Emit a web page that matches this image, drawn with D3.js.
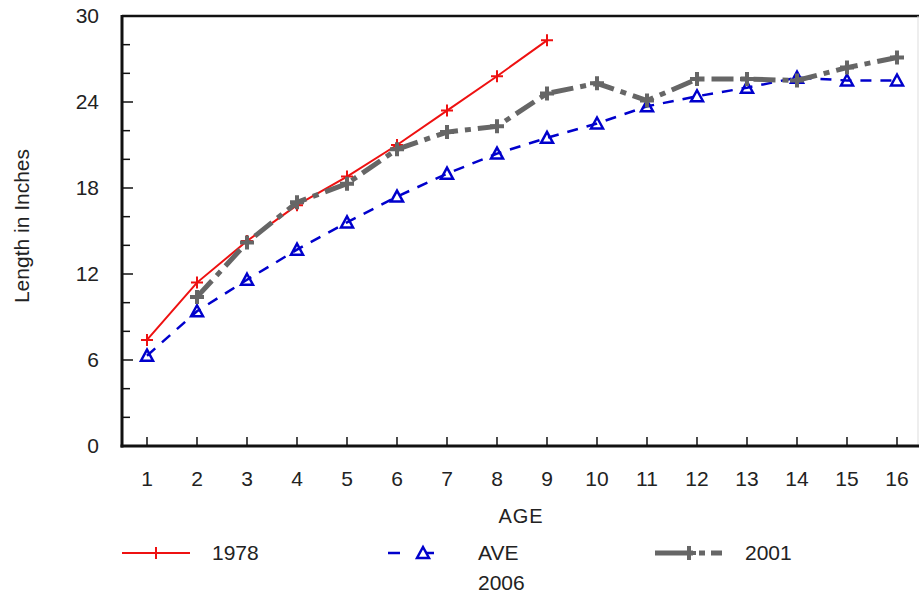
<!DOCTYPE html>
<html>
<head>
<meta charset="utf-8">
<script src="https://cdn.jsdelivr.net/npm/d3@7/dist/d3.min.js"></script>
<style>
  body { margin: 0; background: #fff; }
  text { font-family: "Liberation Sans", Arial, sans-serif; fill: #222; }
</style>
</head>
<body>
<div id="chart"></div>
<script>
var ages = [1, 2, 3, 4, 5, 6, 7, 8, 9, 10, 11, 12, 13, 14, 15, 16];
var y1978 = [7.4, 11.4, 14.3, 16.8, 18.8, 21.0, 23.4, 25.8, 28.3];
var yAve = [6.3, 9.4, 11.6, 13.7, 15.6, 17.4, 19.0, 20.4, 21.5, 22.5, 23.7, 24.4, 25.0, 25.7, 25.5, 25.5];
var y2001 = [null, 10.4, 14.2, 17.0, 18.3, 20.7, 21.9, 22.3, 24.6, 25.3, 24.1, 25.6, 25.6, 25.5, 26.4, 27.1];
var yTicks = [0, 6, 12, 18, 24, 30];

var margin = { left: 122, top: 16, right: 0, bottom: 154 };
var W = 919, H = 600;
var height = H - margin.top - margin.bottom;
var width = 800;

var svg = d3.select("#chart").append("svg")
  .attr("width", W)
  .attr("height", H);

var g = svg.append("g")
  .attr("transform", "translate(" + margin.left + "," + margin.top + ")");

var x = d3.scaleBand().domain(ages).range([0, width]);
var y = d3.scaleLinear().domain([0, 30]).range([height, 0]);
var cx = function (a) { return x(a) + x.bandwidth() / 2; };

// frame: top line and faint right edge
g.append("line").attr("x1", 0).attr("x2", W).attr("y1", 0).attr("y2", 0)
  .attr("stroke", "#111").attr("stroke-width", 2.5);
g.append("line").attr("x1", 796).attr("x2", 796).attr("y1", 0).attr("y2", height)
  .attr("stroke", "#ddd").attr("stroke-width", 1);

// y axis
var yAxis = g.append("g").attr("class", "y-axis");
yAxis.append("line").attr("x1", 0).attr("x2", 0).attr("y1", -1).attr("y2", height + 1.5)
  .attr("stroke", "#111").attr("stroke-width", 3);
yAxis.selectAll(".ytick").data(d3.range(0, 31, 2)).enter().append("line")
  .attr("x1", 0)
  .attr("x2", function (d) { return d % 6 === 0 ? 11 : 8; })
  .attr("y1", function (d) { return y(d); })
  .attr("y2", function (d) { return y(d); })
  .attr("stroke", "#111").attr("stroke-width", 1.5);
yAxis.selectAll(".ylab").data(yTicks).enter().append("text")
  .attr("x", -23)
  .attr("y", function (d) { return y(d); })
  .attr("dy", "0.35em")
  .attr("text-anchor", "end")
  .attr("font-size", "21px")
  .text(function (d) { return d; });

// x axis
var xAxis = g.append("g").attr("class", "x-axis")
  .attr("transform", "translate(0," + height + ")");
xAxis.append("line").attr("x1", -1.5).attr("x2", W).attr("y1", 0).attr("y2", 0)
  .attr("stroke", "#111").attr("stroke-width", 3);
xAxis.selectAll(".xtick").data(ages).enter().append("line")
  .attr("x1", cx).attr("x2", cx)
  .attr("y1", 0).attr("y2", -9)
  .attr("stroke", "#111").attr("stroke-width", 1.5);
xAxis.selectAll(".xlab").data(ages).enter().append("text")
  .attr("x", cx)
  .attr("y", 40)
  .attr("text-anchor", "middle")
  .attr("font-size", "21px")
  .text(function (d) { return d; });

// axis labels
svg.append("text")
  .attr("x", 521).attr("y", 523)
  .attr("text-anchor", "middle")
  .attr("font-size", "20px")
  .attr("letter-spacing", "1px")
  .text("AGE");
svg.append("text")
  .attr("transform", "translate(29,226) rotate(-90)")
  .attr("text-anchor", "middle")
  .attr("font-size", "21px")
  .text("Length in Inches");

// series
var line = d3.line()
  .defined(function (d) { return d.v != null; })
  .x(function (d) { return cx(d.a); })
  .y(function (d) { return y(d.v); });

function pts(vals) {
  return vals.map(function (v, i) { return { a: ages[i], v: v }; });
}

var plus = function (s) { return "M" + (-s) + ",0H" + s + "M0," + (-s) + "V" + s; };
var tri = "M0,-6L6,5H-6Z";

var series = [
  { vals: y1978, color: "#ee1111", w: 2, dash: null, marker: "plus", ms: 6, mw: 2 },
  { vals: yAve, color: "#0000cc", w: 2.5, dash: "11,9", marker: "tri", ms: 6, mw: 2.5 },
  { vals: y2001, color: "#666666", w: 5, dash: "22,7,6,7", marker: "plus", ms: 7, mw: 4 }
];

series.forEach(function (s) {
  var data = pts(s.vals);
  g.append("path")
    .datum(data)
    .attr("fill", "none")
    .attr("stroke", s.color)
    .attr("stroke-width", s.w)
    .attr("stroke-dasharray", s.dash)
    .attr("d", line);
  g.selectAll(null).data(data.filter(function (d) { return d.v != null; })).enter()
    .append("path")
    .attr("transform", function (d) { return "translate(" + cx(d.a) + "," + y(d.v) + ")"; })
    .attr("d", s.marker === "plus" ? plus(s.ms) : tri)
    .attr("fill", "none")
    .attr("stroke", s.color)
    .attr("stroke-width", s.mw);
});

// legend
var legend = svg.append("g");
var ly = 553;
legend.append("line").attr("x1", 122).attr("x2", 190).attr("y1", ly).attr("y2", ly)
  .attr("stroke", "#ee1111").attr("stroke-width", 2);
legend.append("path").attr("transform", "translate(156," + ly + ")").attr("d", plus(6))
  .attr("stroke", "#ee1111").attr("stroke-width", 2);
legend.append("text").attr("x", 212).attr("y", ly).attr("dy", "0.35em")
  .attr("font-size", "21px").text("1978");

legend.append("line").attr("x1", 388).attr("x2", 456).attr("y1", ly).attr("y2", ly)
  .attr("stroke", "#0000cc").attr("stroke-width", 2.5).attr("stroke-dasharray", "12,22");
legend.append("path").attr("transform", "translate(423," + ly + ")").attr("d", tri)
  .attr("fill", "#fff").attr("stroke", "#0000cc").attr("stroke-width", 2.5);
legend.append("text").attr("x", 478).attr("y", ly).attr("dy", "0.35em")
  .attr("font-size", "21px").text("AVE");
legend.append("text").attr("x", 478).attr("y", ly + 30).attr("dy", "0.35em")
  .attr("font-size", "21px").text("2006");

legend.append("line").attr("x1", 655).attr("x2", 722).attr("y1", ly).attr("y2", ly)
  .attr("stroke", "#666").attr("stroke-width", 5).attr("stroke-dasharray", "38,6,6,6,12");
legend.append("path").attr("transform", "translate(689," + ly + ")").attr("d", plus(7))
  .attr("stroke", "#666").attr("stroke-width", 4);
legend.append("text").attr("x", 745).attr("y", ly).attr("dy", "0.35em")
  .attr("font-size", "21px").text("2001");
</script>
</body>
</html>
